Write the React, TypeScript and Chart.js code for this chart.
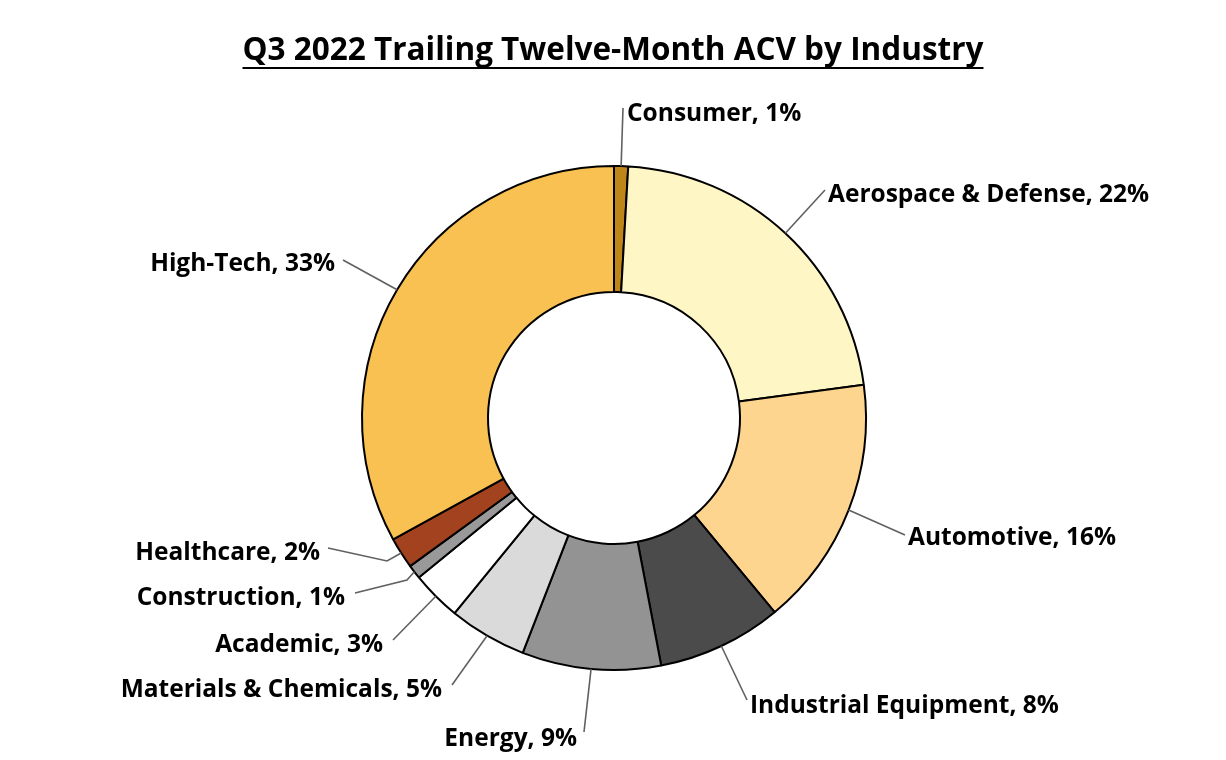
import React, { useEffect, useRef } from "react";
import { Chart, registerables } from "chart.js";

Chart.register(...registerables);

const TITLE = "Q3 2022 Trailing Twelve-Month ACV by Industry";

const industries = [
  "Consumer",
  "Aerospace & Defense",
  "Automotive",
  "Industrial Equipment",
  "Energy",
  "Materials & Chemicals",
  "Academic",
  "Construction",
  "Healthcare",
  "High-Tech",
];

const acvShare = [0.9, 22.0, 16.1, 8.0, 8.9, 5.0, 3.2, 0.9, 2.0, 33.0];

const sliceColors = [
  "#BE8519",
  "#FFF6C5",
  "#FDD58E",
  "#4B4B4B",
  "#939393",
  "#DADADA",
  "#FFFFFF",
  "#999999",
  "#A3421E",
  "#F9C152",
];

// Label placement (offsets from doughnut centre, px): text anchor (cap-middle), alignment, leader end, optional elbow
const labelLayout = [
  { align: "left", tx: 13, ty: -306, end: [9, -310] },
  { align: "left", tx: 214, ty: -225, end: [211, -228] },
  { align: "left", tx: 294, ty: 118, end: [291, 117] },
  { align: "left", tx: 136, ty: 286, end: [133, 282] },
  { align: "right", tx: -37, ty: 319, end: [-30, 314] },
  { align: "right", tx: -172, ty: 270, end: [-162, 267] },
  { align: "right", tx: -231, ty: 225, end: [-221, 222] },
  { align: "right", tx: -269, ty: 178, end: [-259, 175], elbow: [-207, 162] },
  { align: "right", tx: -294, ty: 133, end: [-286, 130], elbow: [-227, 143] },
  { align: "right", tx: -279, ty: -156, end: [-271, -158] },
];

const FONT = "'Open Sans', Lato, sans-serif";

const titlePlugin = {
  id: "underlinedTitle",
  afterDraw(chart: any) {
    const ctx = chart.ctx;
    ctx.save();
    ctx.font = `bold 31.5px ${FONT}`;
    ctx.fillStyle = "#000";
    ctx.textAlign = "center";
    ctx.textBaseline = "alphabetic";
    const cx = chart.width / 2;
    const baseline = 60;
    ctx.fillText(TITLE, cx, baseline);
    const w = ctx.measureText(TITLE).width;
    ctx.fillRect(cx - w / 2, baseline + 7, w, 2);
    ctx.restore();
  },
};

const labelPlugin = {
  id: "leaderLabels",
  afterDatasetsDraw(chart: any) {
    const ctx = chart.ctx;
    const meta = chart.getDatasetMeta(0);
    const total = acvShare.reduce((a, b) => a + b, 0);
    ctx.save();
    ctx.font = `bold 24.5px ${FONT}`;
    const capH = ctx.measureText("H").actualBoundingBoxAscent || 17;
    meta.data.forEach((arc: any, i: number) => {
      const p = arc.getProps(["x", "y", "startAngle", "endAngle", "outerRadius"], true);
      const mid = (p.startAngle + p.endAngle) / 2;
      const ax = p.x + Math.cos(mid) * p.outerRadius;
      const ay = p.y + Math.sin(mid) * p.outerRadius;
      const L = labelLayout[i];
      ctx.beginPath();
      ctx.strokeStyle = "#606060";
      ctx.lineWidth = 1.6;
      ctx.moveTo(ax, ay);
      if (L.elbow) ctx.lineTo(p.x + L.elbow[0], p.y + L.elbow[1]);
      ctx.lineTo(p.x + L.end[0], p.y + L.end[1]);
      ctx.stroke();
      const pct = Math.round((acvShare[i] / total) * 100);
      const text = `${industries[i]}, ${pct}%`;
      ctx.fillStyle = "#000";
      ctx.textAlign = L.align;
      ctx.textBaseline = "alphabetic";
      ctx.fillText(text, p.x + L.tx, p.y + L.ty + capH / 2);
    });
    ctx.restore();
  },
};

export default function App() {
  const canvasRef = useRef<HTMLCanvasElement | null>(null);

  useEffect(() => {
    const canvas = canvasRef.current;
    if (!canvas) return;
    const chart = new Chart(canvas, {
      type: "doughnut",
      data: {
        labels: industries,
        datasets: [
          {
            data: acvShare,
            backgroundColor: sliceColors,
            borderColor: "#000000",
            borderWidth: 2,
          },
        ],
      },
      options: {
        responsive: false,
        animation: false,
        radius: 252,
        cutout: "50%",
        layout: { padding: { left: 2, right: 0, top: 96, bottom: 20 } },
        plugins: {
          legend: { display: false },
          tooltip: { enabled: false },
          title: { display: false },
        },
      } as any,
      plugins: [titlePlugin, labelPlugin],
    });
    return () => chart.destroy();
  }, []);

  return (
    <div style={{ position: "absolute", left: 0, top: 0, width: 1226, height: 760, background: "#fff" }}>
      <canvas ref={canvasRef} width={1226} height={760} style={{ width: 1226, height: 760, display: "block" }} />
    </div>
  );
}
